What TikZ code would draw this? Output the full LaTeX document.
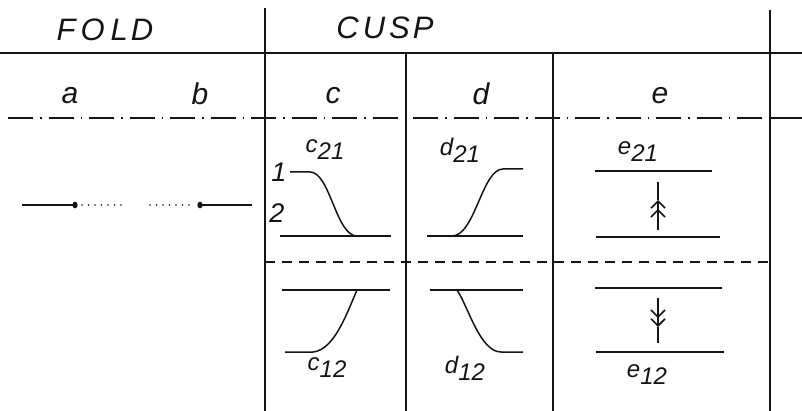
\documentclass[tikz,border=0pt]{standalone}
\usepackage{fontspec}
\setmainfont{Liberation Sans}
\usetikzlibrary{arrows.meta,positioning,calc}
\definecolor{ink}{RGB}{20,20,20}
\tikzset{
    % Lines
    rule/.style={draw=ink, line width=1.5pt},
    dashdot/.style={draw=ink, line width=1.5pt, dash pattern=on 25pt off 7pt on 1.5pt off 7pt},
    dashline/.style={draw=ink, line width=1.6pt, dash pattern=on 10pt off 7pt},
    curve/.style={draw=ink, line width=1.5pt},
    dots/.style={draw=ink, line width=1.8pt, line cap=round, dash pattern=on 0pt off 6.5pt},
    % Arrows
    twotip/.style={draw=ink, line width=1.6pt,
        -{Straight Barb[length=7pt,width=14pt,line width=1.6pt] Straight Barb[length=7pt,width=14pt,line width=1.6pt]}},
    % Labels
    headlabel/.style={font=\fontsize{31}{34}\selectfont\itshape, text=ink, inner sep=0pt},
    collabel/.style={font=\fontsize{30}{32}\selectfont\itshape, text=ink, inner sep=0pt},
    caselabel/.style={font=\fontsize{24}{26}\selectfont\itshape, text=ink, inner sep=0pt},
    levellabel/.style={font=\fontsize{27}{29}\selectfont\itshape, text=ink, inner sep=0pt}
}
\newcommand{\casename}[2]{#1\raisebox{-0.55ex}{#2}}

\begin{document}
\begin{tikzpicture}[x=1pt, y=-1pt]
    \useasboundingbox (0,0) rectangle (802,411);

    % Headings
    \node[headlabel] (fold) at (105,30) {F\hspace{5pt}O\hspace{6pt}L\hspace{3pt}D};
    \node[headlabel] (cusp) at (385,28) {C\hspace{4pt}U\hspace{4pt}S\hspace{3pt}P};

    \node[collabel] (cola) at (70,96) {a};
    \node[collabel] (colb) at (200,94) {b};
    \node[collabel] (colc) at (333,96) {c};
    \node[collabel] (cold) at (481,94) {d};
    \node[collabel] (cole) at (660,96) {e};

    % Table rules
    \draw[rule] (0,53) -- (802,53);
    \draw[rule] (265,8) -- (265,411);
    \draw[rule] (770,10) -- (770,411);
    \draw[rule] (406,53) -- (406,411);
    \draw[rule] (553,53) -- (553,411);
    \draw[dashdot] (8,118) -- (770,118);
    \draw[rule] (770,118) -- (802,118);
    \draw[dashline] (265,262) -- (770,262);

    % Fold: a and b
    \draw[rule] (22,205) -- (75,205);
    \fill[ink] (75,205) ellipse (2.6pt and 3.4pt);
    \draw[dots] (82,205) -- (121,205);
    \draw[dots] (150,205) -- (195,205);
    \fill[ink] (200,205) ellipse (2.6pt and 3.4pt);
    \draw[rule] (200,205) -- (252,205);

    % Cusp c
    \node[caselabel] (c21) at (325,150) {\casename{c}{21}};
    \node[levellabel] (lvlone) at (279,172) {1};
    \node[levellabel] (lvltwo) at (277,213) {2};
    \draw[curve] (290,172) -- (310,172)
        .. controls (330,172) and (336,236) .. (357,236);
    \draw[curve] (280,236) -- (391,236);
    \draw[curve] (282,290) -- (390,290);
    \draw[curve] (285,352) -- (313,352)
        .. controls (335,350) and (348,310) .. (357,290);
    \node[caselabel] (c12) at (327,368) {\casename{c}{12}};

    % Cusp d
    \node[caselabel] (d21) at (460,150) {\casename{d}{21}};
    \draw[curve] (427,236) -- (523,236);
    \draw[curve] (452,236) .. controls (475,236) and (482,169) .. (503,169) -- (523,169);
    \draw[curve] (430,290) -- (523,290);
    \draw[curve] (457,290) .. controls (468,306) and (480,352) .. (501,352) -- (523,352);
    \node[caselabel] (d12) at (465,368) {\casename{d}{12}};

    % Cusp e
    \node[caselabel] (e21) at (638,152) {\casename{e}{21}};
    \draw[curve] (595,171) -- (712,171);
    \draw[curve] (596,237) -- (720,237);
    \coordinate (eupbot) at (658,230);
    \coordinate (eupmid) at (658,200);
    \coordinate (euptop) at (658,182);
    \draw[twotip] (eupbot) -- (eupmid);
    \draw[rule] (eupmid) -- (euptop);

    \draw[curve] (595,288) -- (722,288);
    \draw[curve] (596,352) -- (724,352);
    \coordinate (edntop) at (658,298);
    \coordinate (ednmid) at (658,327);
    \coordinate (ednbot) at (658,343);
    \draw[twotip] (edntop) -- (ednmid);
    \draw[rule] (ednmid) -- (ednbot);
    \node[caselabel] (e12) at (647,375) {\casename{e}{12}};

\end{tikzpicture}
\end{document}
